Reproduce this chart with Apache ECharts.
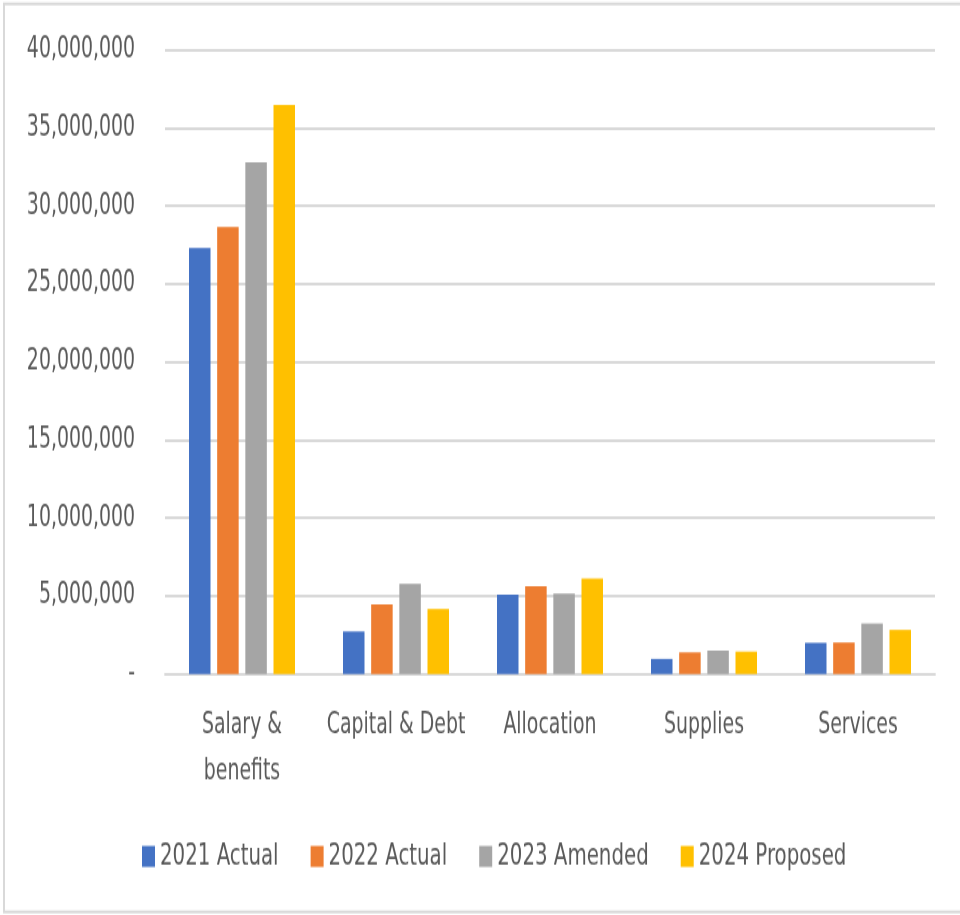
<!DOCTYPE html>
<html>
<head>
<meta charset="utf-8">
<script src="https://cdn.jsdelivr.net/npm/echarts@6/dist/echarts.min.js"></script>
<style>
html,body{margin:0;padding:0;background:#fff;overflow:hidden;}
#wrap{width:960px;height:915px;overflow:hidden;}
#chart{width:960px;height:654px;transform:scaleY(1.3991);transform-origin:0 0;}
</style>
</head>
<body>
<div id="wrap"><div id="chart"></div></div>
<script>
const categories = ['Salary &\nbenefits', 'Capital & Debt', 'Allocation', 'Supplies', 'Services'];
const seriesNames = ['2021 Actual', '2022 Actual', '2023 Amended', '2024 Proposed'];
const actual2021 = [27300000, 2730000, 5090000, 970000, 2000000];
const actual2022 = [28650000, 4460000, 5620000, 1390000, 2020000];
const amended2023 = [32800000, 5790000, 5150000, 1500000, 3240000];
const proposed2024 = [36470000, 4180000, 6120000, 1440000, 2830000];
const colors = ['#4472C4', '#ED7D31', '#A5A5A5', '#FFC000'];

const S = 1.3991; // vertical stretch of the reference
const FONT = '"DejaVu Sans Condensed", "Liberation Sans Narrow", sans-serif';
const FS = 21;
const chart = echarts.init(document.getElementById('chart'));
const dataSets = [actual2021, actual2022, amended2023, proposed2024];
chart.setOption({
  animation: false,
  graphic: [{
    type: 'rect', shape: {x: 4, y: 4 / S, width: 970, height: 908 / S},
    style: {fill: 'none', stroke: '#d9d9d9', lineWidth: 2}, silent: true
  }],
  grid: {left: 165, right: 25, top: 50 / S, bottom: 654 - 674 / S, outerBoundsMode: 'none', containLabel: false},
  legend: {
    data: seriesNames, left: 137, top: 834 / S,
    itemWidth: 13, itemHeight: 21 / S, itemGap: 32, icon: 'rect',
    textStyle: {fontFamily: FONT, fontSize: 22, color: '#595959'}
  },
  xAxis: {
    type: 'category', data: categories,
    axisLine: {lineStyle: {color: '#d9d9d9', width: 1.8}},
    axisTick: {show: false},
    axisLabel: {fontFamily: FONT, fontSize: FS, color: '#595959', margin: 28 / S, lineHeight: 46 / S, interval: 0}
  },
  yAxis: {
    type: 'value', min: 0, max: 40000000, interval: 5000000,
    axisLine: {show: false}, axisTick: {show: false},
    splitLine: {lineStyle: {color: '#d9d9d9', width: 1.8}},
    axisLabel: {
      fontFamily: FONT, fontSize: FS, color: '#595959', margin: 30,
      formatter: v => v === 0 ? '-' : v.toLocaleString('en-US')
    }
  },
  series: dataSets.map((d, i) => ({
    name: seriesNames[i], type: 'bar', data: d,
    barWidth: 21.5, barGap: '31%',
    itemStyle: {color: colors[i]}
  }))
});
</script>
</body>
</html>
